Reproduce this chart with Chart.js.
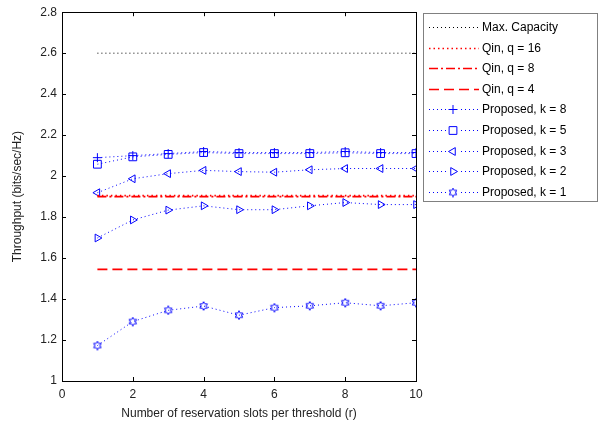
<!DOCTYPE html>
<html>
<head>
<meta charset="utf-8">
<script src="https://cdn.jsdelivr.net/npm/chart.js@4/dist/chart.umd.min.js"></script>
<style>
  html, body { margin: 0; padding: 0; background: #fff; }
  #wrap { width: 602px; height: 429px; }
</style>
</head>
<body>
<div id="wrap"><canvas id="thr-chart" width="602" height="429"></canvas></div>
<script>
// reservation slots per threshold (r)
const slots = [1, 2, 3, 4, 5, 6, 7, 8, 9, 10];

const maxCapacity = [2.6, 2.6, 2.6, 2.6, 2.6, 2.6, 2.6, 2.6, 2.6, 2.6];
const qin16 = [1.905, 1.905, 1.905, 1.905, 1.905, 1.905, 1.905, 1.905, 1.905, 1.905];
const qin8 = [1.9, 1.9, 1.9, 1.9, 1.9, 1.9, 1.9, 1.9, 1.9, 1.9];
const qin4 = [1.545, 1.545, 1.545, 1.545, 1.545, 1.545, 1.545, 1.545, 1.545, 1.545];

const propK8 = [2.09, 2.10, 2.11, 2.12, 2.115, 2.115, 2.115, 2.12, 2.115, 2.115];
const propK5 = [2.058, 2.094, 2.106, 2.115, 2.11, 2.11, 2.11, 2.114, 2.11, 2.11];
const propK3 = [1.919, 1.987, 2.012, 2.028, 2.022, 2.019, 2.031, 2.037, 2.037, 2.037];
const propK2 = [1.698, 1.786, 1.834, 1.855, 1.836, 1.836, 1.855, 1.871, 1.861, 1.861];
const propK1 = [1.173, 1.29, 1.345, 1.366, 1.321, 1.358, 1.367, 1.382, 1.367, 1.382];

const xTicks = [0, 2, 4, 6, 8, 10];

const BLUE = '#0000ff';
const RED = '#ff0000';

// hexagram marker (matlab 'h')
const hexagram = (() => {
    const c = document.createElement('canvas');
    c.width = 10; c.height = 10;
    const g = c.getContext('2d');
    g.strokeStyle = BLUE;
    g.lineWidth = 1;
    g.beginPath();
    for (let i = 0; i < 12; i++) {
        const r = i % 2 === 0 ? 4.3 : 2.5;
        const a = -Math.PI / 2 + i * Math.PI / 6;
        const px = 5 + r * Math.cos(a), py = 5 + r * Math.sin(a);
        if (i === 0) g.moveTo(px, py); else g.lineTo(px, py);
    }
    g.closePath();
    g.stroke();
    return c;
})();

const pts = (ys) => slots.map((r, i) => ({ x: r, y: ys[i] }));

const flatLine = (label, ys, color, dash, width) => ({
    label: label,
    data: pts(ys),
    borderColor: color,
    borderWidth: width,
    borderDash: dash,
    pointRadius: 0,
    fill: false
});

const proposed = (label, ys, style, radius, rotation) => ({
    label: label,
    data: pts(ys),
    borderColor: BLUE,
    backgroundColor: 'rgba(0,0,0,0)',
    borderWidth: 1,
    borderDash: [1, 3],
    pointStyle: style,
    pointRadius: radius,
    pointRotation: rotation || 0,
    pointBorderColor: BLUE,
    pointBackgroundColor: 'rgba(0,0,0,0)',
    pointBorderWidth: 1,
    fill: false
});

const datasets = [
    flatLine('Max. Capacity', maxCapacity, '#000000', [1, 3], 1),
    flatLine('Qin, q = 16', qin16, RED, [1.5, 3], 1.6),
    flatLine('Qin, q = 8', qin8, RED, [9, 3, 2, 3], 1.6),
    flatLine('Qin, q = 4', qin4, RED, [10, 5], 1.6),
    proposed('Proposed, k = 8', propK8, 'cross', 4.5),
    proposed('Proposed, k = 5', propK5, 'rect', 5.5),
    proposed('Proposed, k = 3', propK3, 'triangle', 4.5, -90),
    proposed('Proposed, k = 2', propK2, 'triangle', 4.5, 90),
    proposed('Proposed, k = 1', propK1, hexagram, 4)
];

// box around the axes with inward ticks
const boxTicks = {
    id: 'boxTicks',
    afterDraw(chart) {
        const { ctx, chartArea: a, scales } = chart;
        ctx.save();
        ctx.strokeStyle = '#000';
        ctx.lineWidth = 1;
        ctx.strokeRect(Math.round(a.left) + 0.5, Math.round(a.top) + 0.5,
            Math.round(a.right - a.left), Math.round(a.bottom - a.top));
        ctx.beginPath();
        scales.x.ticks.forEach(t => {
            const px = Math.round(scales.x.getPixelForValue(t.value)) + 0.5;
            ctx.moveTo(px, a.bottom); ctx.lineTo(px, a.bottom - 4);
            ctx.moveTo(px, a.top); ctx.lineTo(px, a.top + 4);
        });
        scales.y.ticks.forEach(t => {
            const py = Math.round(scales.y.getPixelForValue(t.value)) + 0.5;
            ctx.moveTo(a.left, py); ctx.lineTo(a.left + 4, py);
            ctx.moveTo(a.right, py); ctx.lineTo(a.right - 4, py);
        });
        ctx.stroke();
        ctx.restore();
    }
};

// matlab style legend: line sample with marker in the middle
const sideLegend = {
    id: 'sideLegend',
    afterDraw(chart) {
        const ctx = chart.ctx;
        const x0 = 423, y0 = 13, w = 174, h = 188;
        ctx.save();
        ctx.fillStyle = '#fff';
        ctx.fillRect(x0, y0, w, h);
        ctx.strokeStyle = '#808080';
        ctx.lineWidth = 1;
        ctx.strokeRect(x0 + 0.5, y0 + 0.5, w, h);
        ctx.font = '12px "Liberation Sans", Arial, sans-serif';
        ctx.textBaseline = 'middle';
        chart.data.datasets.forEach((ds, i) => {
            const y = Math.round(y0 + 14 + i * 20.6) + 0.5;
            ctx.strokeStyle = ds.borderColor;
            ctx.lineWidth = ds.borderWidth;
            ctx.setLineDash(ds.borderDash || []);
            ctx.beginPath();
            ctx.moveTo(429, y); ctx.lineTo(479, y);
            ctx.stroke();
            ctx.setLineDash([]);
            ctx.lineWidth = 1;
            if (ds.pointRadius > 0) {
                ctx.fillStyle = '#fff';
                ctx.fillRect(447, y - 5, 12, 10);
                ctx.strokeStyle = BLUE;
                Chart.helpers.drawPoint(ctx, {
                    pointStyle: ds.pointStyle,
                    radius: ds.pointRadius,
                    rotation: ds.pointRotation,
                    borderWidth: 1
                }, 453, y);
            }
            ctx.fillStyle = '#000';
            ctx.fillText(ds.label, 482, y);
        });
        ctx.restore();
    }
};

Chart.defaults.font.family = '"Liberation Sans", Arial, sans-serif';
Chart.defaults.font.size = 12;
Chart.defaults.color = '#222';

new Chart(document.getElementById('thr-chart'), {
    type: 'line',
    data: { datasets: datasets },
    options: {
        responsive: false,
        animation: false,
        layout: { padding: { top: 7, right: 186, left: 0, bottom: 0 } },
        plugins: {
            legend: { display: false },
            tooltip: { enabled: false }
        },
        scales: {
            x: {
                type: 'linear',
                min: 0,
                max: 10,
                afterBuildTicks: (scale) => { scale.ticks = xTicks.map(v => ({ value: v })); },
                afterFit: (scale) => { scale.height = 48; },
                grid: { display: false, drawTicks: false },
                border: { display: false },
                ticks: { padding: 6, maxRotation: 0 },
                title: {
                    display: true,
                    text: 'Number of reservation slots per threshold (r)',
                    padding: { top: 2, bottom: 8 }
                }
            },
            y: {
                min: 1,
                max: 2.8,
                afterFit: (scale) => { scale.width = 62; },
                grid: { display: false, drawTicks: false },
                border: { display: false },
                ticks: {
                    stepSize: 0.2,
                    padding: 5,
                    callback: (v) => String(Math.round(v * 10) / 10)
                },
                title: {
                    display: true,
                    text: 'Throughput (bits/sec/Hz)',
                    padding: { top: 10, bottom: 2 }
                }
            }
        }
    },
    plugins: [boxTicks, sideLegend]
});
</script>
</body>
</html>
